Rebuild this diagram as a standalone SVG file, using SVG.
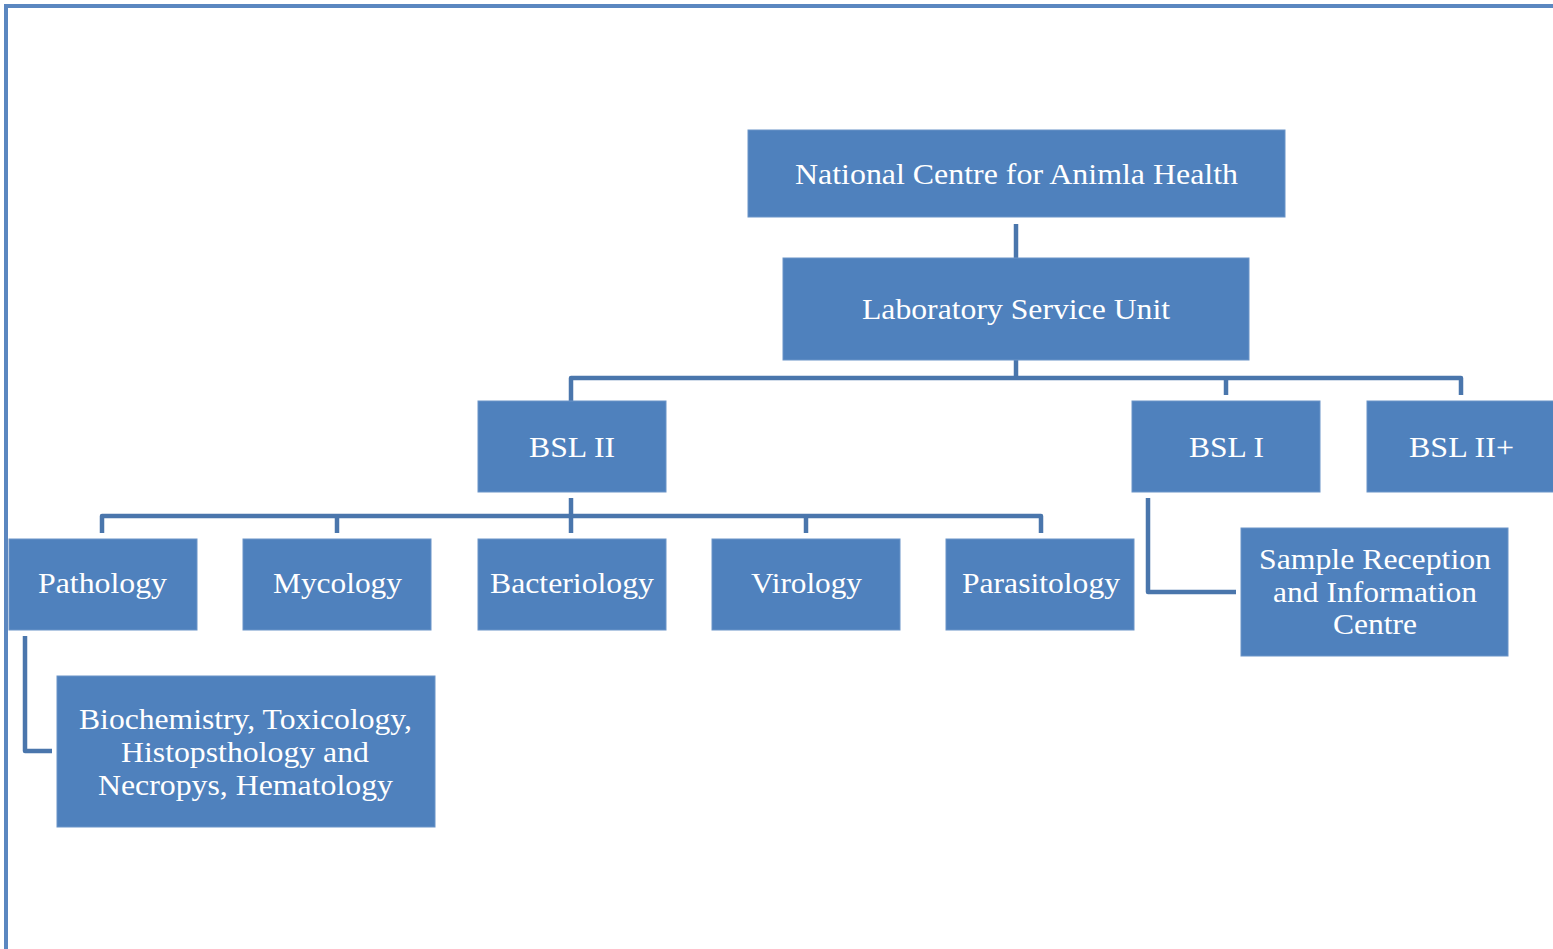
<svg xmlns="http://www.w3.org/2000/svg" width="1553" height="949" viewBox="0 0 1553 949">
<style>
.box{fill:#4F81BD;stroke:#6A94C8;stroke-width:1}
.t{font-family:"Times New Roman","Liberation Serif",Times,serif;font-size:30px;fill:#FFFFFF;text-anchor:middle}
.c{fill:none;stroke:#4A76AC;stroke-width:4.5;stroke-linejoin:round}
.frame{fill:none;stroke:#5B87C0;stroke-width:4}
</style>
<rect width="1553" height="949" fill="#FFFFFF"/>
<path class="frame" d="M6,949 V6 H1553"/>
<g id="connectors">
<path class="c" d="M1016,224 V258"/>
<path class="c" d="M1016,360 V378"/>
<path class="c" d="M571,401 V378 H1461 V395"/>
<path class="c" d="M1226,378 V395"/>
<path class="c" d="M571,498 V533"/>
<path class="c" d="M102,533 V516 H1041 V533"/>
<path class="c" d="M337,516 V533"/>
<path class="c" d="M806,516 V533"/>
<path class="c" d="M25,636 V751 H52"/>
<path class="c" d="M1148,498 V592 H1236"/>
</g>
<g id="n-ncah"><rect class="box" x="748" y="130" width="537" height="87"/><text class="t" x="1016.5" y="184" textLength="443" lengthAdjust="spacingAndGlyphs">National Centre for Animla  Health</text></g>
<g id="n-lsu"><rect class="box" x="783" y="258" width="466" height="102"/><text class="t" x="1016" y="319" textLength="308" lengthAdjust="spacingAndGlyphs">Laboratory Service Unit</text></g>
<g id="n-bsl2"><rect class="box" x="478" y="401" width="188" height="91"/><text class="t" x="572" y="457" textLength="86" lengthAdjust="spacingAndGlyphs">BSL II</text></g>
<g id="n-bsl1"><rect class="box" x="1132" y="401" width="188" height="91"/><text class="t" x="1226.5" y="457" textLength="75" lengthAdjust="spacingAndGlyphs">BSL I</text></g>
<g id="n-bsl2p"><rect class="box" x="1367" y="401" width="188" height="91"/><text class="t" x="1461.5" y="457" textLength="105" lengthAdjust="spacingAndGlyphs">BSL II+</text></g>
<g id="n-path"><rect class="box" x="9" y="539" width="188" height="91"/><text class="t" x="102.5" y="593" textLength="129" lengthAdjust="spacingAndGlyphs">Pathology</text></g>
<g id="n-myco"><rect class="box" x="243" y="539" width="188" height="91"/><text class="t" x="337.5" y="593" textLength="129" lengthAdjust="spacingAndGlyphs">Mycology</text></g>
<g id="n-bact"><rect class="box" x="478" y="539" width="188" height="91"/><text class="t" x="572" y="593" textLength="164" lengthAdjust="spacingAndGlyphs">Bacteriology</text></g>
<g id="n-viro"><rect class="box" x="712" y="539" width="188" height="91"/><text class="t" x="806.5" y="593" textLength="111" lengthAdjust="spacingAndGlyphs">Virology</text></g>
<g id="n-para"><rect class="box" x="946" y="539" width="188" height="91"/><text class="t" x="1041" y="593" textLength="158" lengthAdjust="spacingAndGlyphs">Parasitology</text></g>
<g id="n-biochem"><rect class="box" x="57" y="676" width="378" height="151"/>
<text class="t" x="245.5" y="729" textLength="333" lengthAdjust="spacingAndGlyphs">Biochemistry, Toxicology,</text>
<text class="t" x="245" y="762" textLength="248" lengthAdjust="spacingAndGlyphs">Histopsthology and</text>
<text class="t" x="245.5" y="795" textLength="295" lengthAdjust="spacingAndGlyphs">Necropys, Hematology</text></g>
<g id="n-sample"><rect class="box" x="1241" y="528" width="267" height="128"/>
<text class="t" x="1375" y="569" textLength="232" lengthAdjust="spacingAndGlyphs">Sample Reception</text>
<text class="t" x="1375" y="602" textLength="204" lengthAdjust="spacingAndGlyphs">and Information</text>
<text class="t" x="1375" y="634" textLength="84" lengthAdjust="spacingAndGlyphs">Centre</text></g>
</svg>
